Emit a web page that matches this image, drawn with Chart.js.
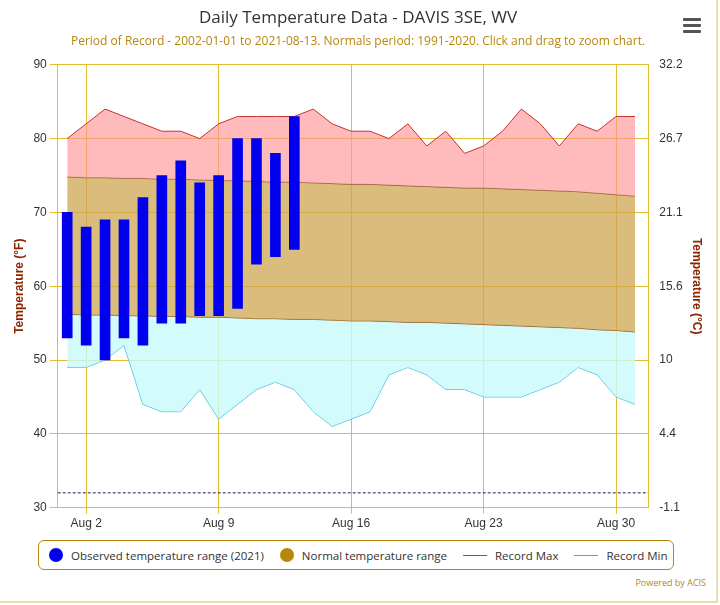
<!DOCTYPE html>
<html><head><meta charset="utf-8">
<script src="https://cdn.jsdelivr.net/npm/chart.js@4.4.0/dist/chart.umd.min.js"></script>
<style>
body{margin:0;background:#fff;font-family:"Open Sans",sans-serif;}
#wrap{position:relative;width:716px;height:601px;border:2px solid #e8dcb0;border-top:none;border-left:none;}
#c{position:absolute;left:0;top:0;}
#menu{position:absolute;left:683px;top:18px;width:18px;}
#menu div{height:3px;background:#555;margin-bottom:3px;border-radius:1px;}
#legend{position:absolute;left:38px;top:540px;width:634px;height:28px;border:1px solid #b8860b;border-radius:6px;display:flex;align-items:center;font-size:11.5px;color:#333;white-space:nowrap;}
#legend span{display:flex;align-items:center;margin-left:10px;margin-right:6px;}
.dot{display:inline-block;width:14px;height:14px;border-radius:50%;margin-right:8px;}
.ln{display:inline-block;width:24px;height:0;border-top:1px solid;margin-right:8px;}
#acis{position:absolute;right:10px;top:576px;font-size:9px;color:#b8860b;}
</style></head><body>
<div id="wrap">
<canvas id="c" width="716" height="534"></canvas>
<div id="menu"><div></div><div></div><div></div></div>
<div id="legend">
<span><i class="dot" style="background:#0000ee"></i>Observed temperature range (2021)</span>
<span><i class="dot" style="background:#b8860b"></i>Normal temperature range</span>
<span><i class="ln" style="border-color:#d03030"></i>Record Max</span>
<span><i class="ln" style="border-color:#30b0d8"></i>Record Min</span>
</div>
<div id="acis">Powered by ACIS</div>
</div>
<script>
const days = Array.from({length: 31}, (_, i) => i + 1);
const obsLow = [53, 52, 50, 53, 52, 55, 55, 56, 56, 57, 63, 64, 65];
const obsHigh = [70, 68, 69, 69, 72, 75, 77, 74, 75, 80, 80, 78, 83];
const recordMax = [80, 82, 84, 83, 82, 81, 81, 80, 82, 83, 83, 83, 83, 84, 82, 81, 81, 80, 82, 79, 81, 78, 79, 81, 84, 82, 79, 82, 81, 83, 83];
const recordMin = [49, 49, 50, 52, 44, 43, 43, 46, 42, 44, 46, 47, 46, 43, 41, 42, 43, 48, 49, 48, 46, 46, 45, 45, 45, 46, 47, 49, 48, 45, 44];
const normalMax = [74.8, 74.7, 74.7, 74.6, 74.6, 74.5, 74.5, 74.4, 74.3, 74.3, 74.2, 74.1, 74.1, 74.0, 73.9, 73.8, 73.8, 73.7, 73.6, 73.5, 73.4, 73.3, 73.3, 73.2, 73.1, 73.0, 72.9, 72.8, 72.6, 72.4, 72.2];
const normalMin = [56.2, 56.1, 56.1, 56.0, 56.0, 55.9, 55.9, 55.8, 55.8, 55.7, 55.6, 55.6, 55.5, 55.5, 55.4, 55.3, 55.3, 55.2, 55.1, 55.1, 55.0, 54.9, 54.8, 54.7, 54.6, 54.5, 54.4, 54.3, 54.1, 54.0, 53.8];
const xTicks = [2, 9, 16, 23, 30];
const fTicks = [30, 40, 50, 60, 70, 80, 90];

const pts = arr => arr.map((v, i) => ({x: days[i], y: v}));
const gold = '#e2be2a';

new Chart(document.getElementById('c'), {
  data: {
    datasets: [
      {type: 'line', data: pts(recordMax), borderColor: '#c83030', borderWidth: 1, backgroundColor: 'rgba(255,150,150,0.65)', fill: '+1', pointRadius: 0, tension: 0, order: 2},
      {type: 'line', data: pts(normalMax), borderColor: '#8b5a2b', borderWidth: 1, backgroundColor: 'rgba(205,165,80,0.75)', fill: '+1', pointRadius: 0, order: 2},
      {type: 'line', data: pts(normalMin), borderColor: '#8b5a2b', borderWidth: 1, backgroundColor: 'rgba(200,250,250,0.8)', fill: '+1', pointRadius: 0, order: 2},
      {type: 'line', data: pts(recordMin), borderColor: '#30b0d8', borderWidth: 1, fill: false, pointRadius: 0, order: 2},
      {type: 'line', data: [{x: 0.5, y: 32}, {x: 31.7, y: 32}], borderColor: '#202060', borderWidth: 1, borderDash: [3, 2], pointRadius: 0, fill: false, order: 2},
      {type: 'bar', data: obsLow.map((v, i) => ({x: days[i], y: [v, obsHigh[i]]})), backgroundColor: '#0000ee', barThickness: 10, order: 0}
    ]
  },
  options: {
    animation: false, responsive: false,
    layout: {padding: {left: 8, right: 8, top: 0, bottom: 0}},
    plugins: {
      legend: {display: false}, tooltip: {enabled: false},
      title: {display: true, text: 'Daily Temperature Data - DAVIS 3SE, WV', color: '#333', font: {size: 17, weight: 'normal', family: 'Open Sans'}, padding: {top: 8, bottom: 6}},
      subtitle: {display: true, text: 'Period of Record - 2002-01-01 to 2021-08-13. Normals period: 1991-2020. Click and drag to zoom chart.', color: '#b8860b', font: {size: 12, family: 'Open Sans'}, padding: {bottom: 16}}
    },
    scales: {
      x: {type: 'linear', min: 0.5, max: 31.7, offset: false,
        afterBuildTicks: a => { a.ticks = xTicks.map(v => ({value: v})); },
        ticks: {callback: v => 'Aug ' + v, color: '#333', font: {size: 12}},
        grid: {color: gold, offset: false, tickLength: 6}, border: {color: gold}},
      y: {min: 30, max: 90,
        afterBuildTicks: a => { a.ticks = fTicks.map(v => ({value: v})); },
        ticks: {color: '#333', font: {size: 12}},
        title: {display: true, text: 'Temperature (°F)', color: '#8b2500', font: {size: 12, weight: 'bold'}},
        grid: {color: gold}, border: {color: gold}},
      y2: {position: 'right', min: 30, max: 90,
        afterBuildTicks: a => { a.ticks = fTicks.map(v => ({value: v})); },
        ticks: {color: '#333', font: {size: 12}, callback: v => String(Math.round((v - 32) * 5 / 9 * 10) / 10)},
        title: {display: true, text: 'Temperature (°C)', color: '#8b2500', font: {size: 12, weight: 'bold'}},
        grid: {display: false}, border: {color: gold}}
    }
  }
});
</script>
</body></html>
